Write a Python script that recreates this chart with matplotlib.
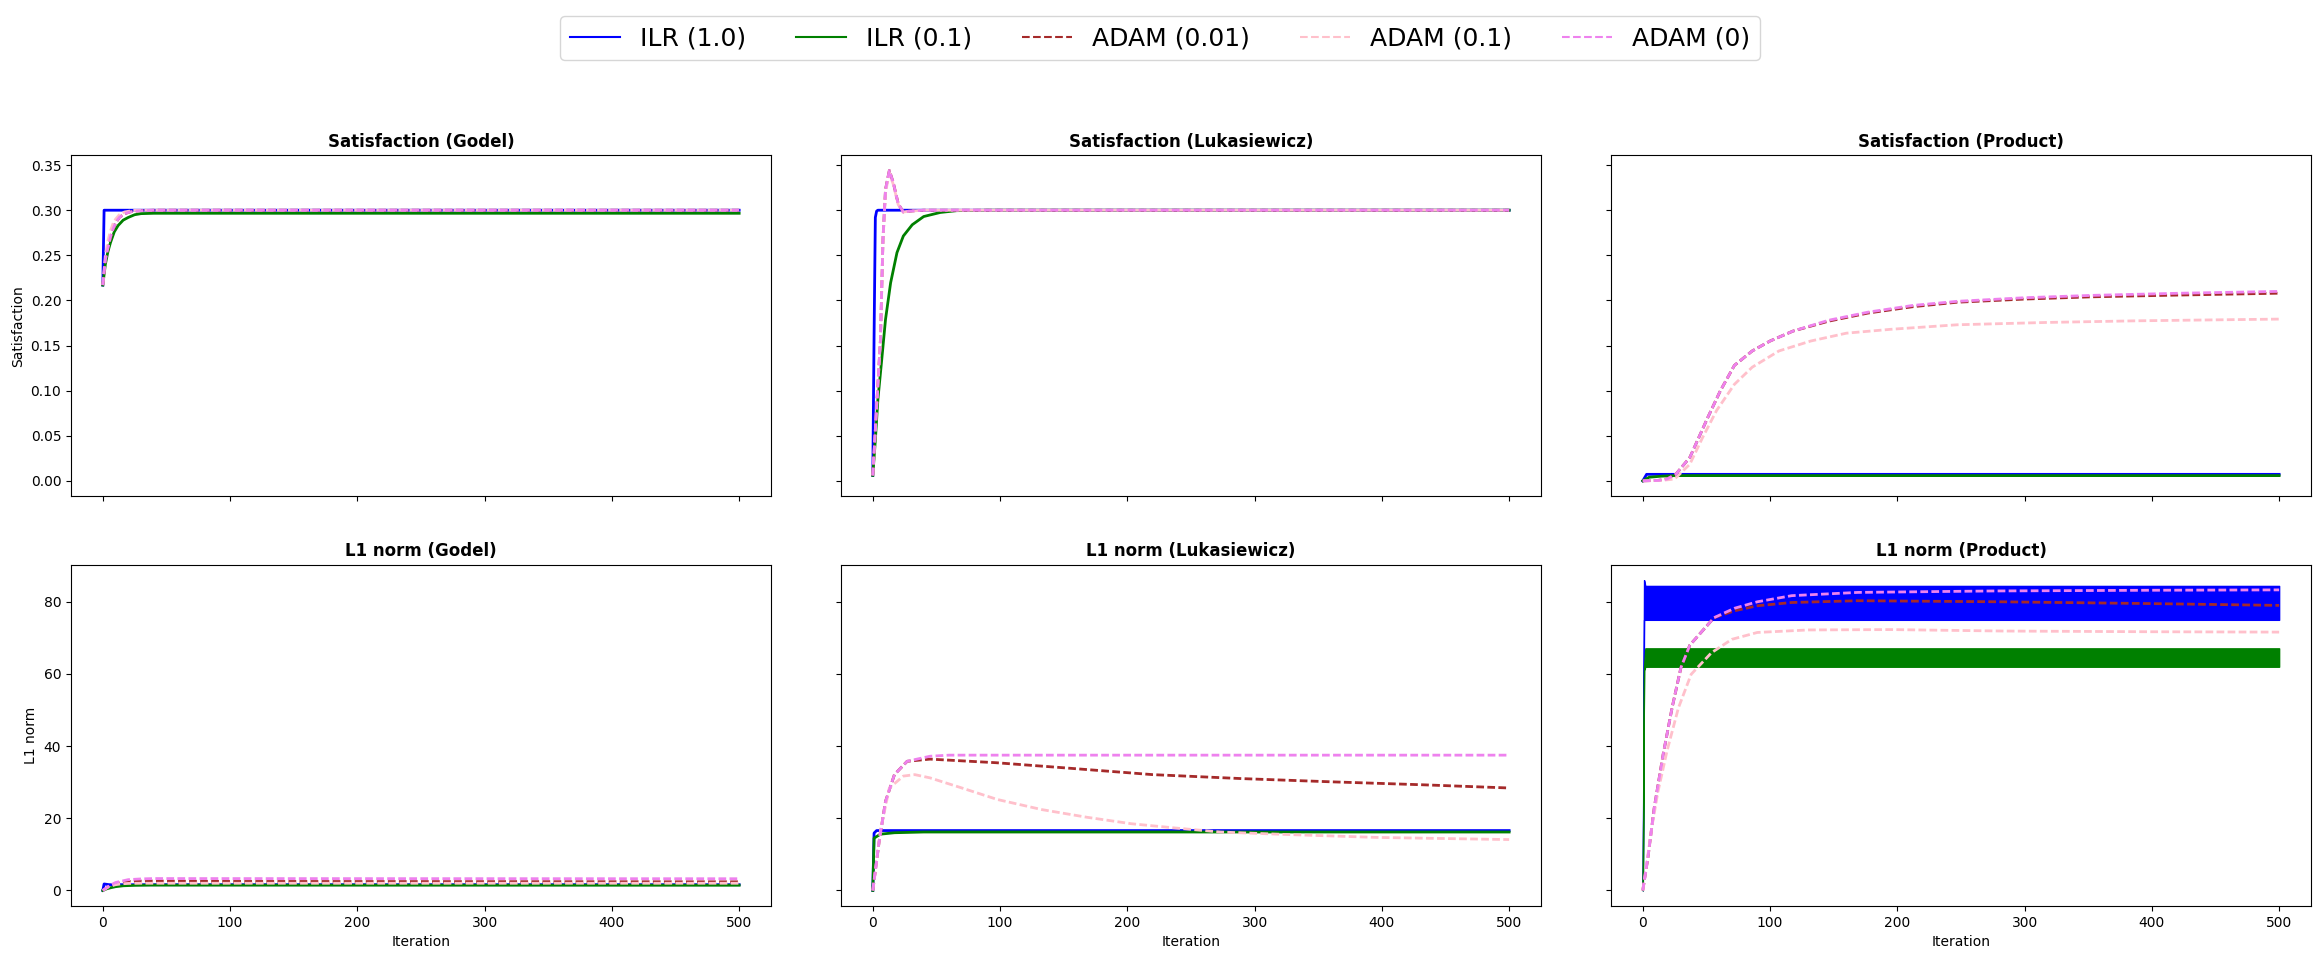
import matplotlib
matplotlib.use('Agg')
import matplotlib.pyplot as plt
from matplotlib.lines import Line2D

# ---------------- legend / styles ----------------
labels = ['ILR (1.0)', 'ILR (0.1)', 'ADAM (0.01)', 'ADAM (0.1)', 'ADAM (0)']
colors = ['blue', 'green', 'brown', 'pink', 'violet']
styles = ['-', '-', (0, (2.775, 1.2)), (0, (2.775, 1.2)), (0, (2.775, 1.2))]
legend_styles = ['-', '-', '--', '--', '--']

titles_top = ['Satisfaction (Godel)', 'Satisfaction (Lukasiewicz)', 'Satisfaction (Product)']
titles_bot = ['L1 norm (Godel)', 'L1 norm (Lukasiewicz)', 'L1 norm (Product)']

# ---------------- Satisfaction (Godel) ----------------
sat_godel_ilr1_it = [0, 1, 500]
sat_godel_ilr1 = [0.217, 0.300, 0.300]
sat_godel_ilr01_it = [0, 2, 4, 6, 9, 12, 16, 20, 25, 30, 40, 60, 500]
sat_godel_ilr01 = [0.217, 0.240, 0.254, 0.264, 0.276, 0.283, 0.289, 0.292, 0.295, 0.2962, 0.2966, 0.2966, 0.2966]
sat_godel_adam001_it = [0, 2, 4, 6, 8, 10, 13, 17, 21, 25, 30, 40, 500]
sat_godel_adam001 = [0.217, 0.245, 0.258, 0.270, 0.279, 0.286, 0.292, 0.296, 0.298, 0.299, 0.2995, 0.300, 0.300]
sat_godel_adam01_it = [0, 2, 4, 6, 8, 10, 13, 17, 21, 25, 30, 40, 500]
sat_godel_adam01 = [0.217, 0.250, 0.266, 0.277, 0.285, 0.290, 0.295, 0.298, 0.299, 0.2998, 0.300, 0.300, 0.300]
sat_godel_adam0_it = [0, 2, 4, 6, 8, 10, 13, 17, 21, 25, 30, 40, 500]
sat_godel_adam0 = [0.217, 0.245, 0.258, 0.270, 0.279, 0.286, 0.292, 0.296, 0.298, 0.299, 0.2995, 0.300, 0.300]

# ---------------- Satisfaction (Lukasiewicz) ----------------
sat_luk_ilr1_it = [0, 1, 2, 3, 4, 500]
sat_luk_ilr1 = [0.006, 0.160, 0.292, 0.299, 0.300, 0.300]
sat_luk_ilr01_it = [0, 2, 4, 7, 10, 14, 19, 24, 31, 40, 53, 66, 90, 500]
sat_luk_ilr01 = [0.006, 0.045, 0.090, 0.134, 0.179, 0.2195, 0.253, 0.2714, 0.2839, 0.293, 0.2975, 0.2995, 0.300, 0.300]
sat_luk_adam001_it = [0, 3, 6, 7, 8, 10, 13, 16, 20, 24, 29, 40, 500]
sat_luk_adam001 = [0.006, 0.082, 0.156, 0.212, 0.268, 0.323, 0.344, 0.331, 0.307, 0.298, 0.299, 0.300, 0.300]
sat_luk_adam01_it = [0, 3, 6, 7, 8, 10, 13, 16, 20, 24, 29, 40, 500]
sat_luk_adam01 = [0.006, 0.082, 0.156, 0.212, 0.266, 0.320, 0.341, 0.329, 0.306, 0.298, 0.299, 0.300, 0.300]
sat_luk_adam0_it = [0, 3, 6, 7, 8, 10, 13, 16, 20, 24, 29, 40, 500]
sat_luk_adam0 = [0.006, 0.082, 0.156, 0.212, 0.268, 0.323, 0.344, 0.331, 0.307, 0.298, 0.299, 0.300, 0.300]

# ---------------- Satisfaction (Product) ----------------
sat_prod_ilr1_it = [0, 3, 500]
sat_prod_ilr1 = [0.0, 0.0072, 0.0072]
sat_prod_ilr01_it = [0, 5, 15, 25, 500]
sat_prod_ilr01 = [0.0, 0.004, 0.0052, 0.0058, 0.0058]
sat_prod_adam001_it = [0, 12, 19, 26, 37, 51, 61, 72, 86, 100, 118, 146, 177, 212, 247, 300, 353, 423, 500]
sat_prod_adam001 = [0.0, 0.0005, 0.002, 0.0074, 0.026, 0.070, 0.100, 0.128, 0.144, 0.155, 0.166, 0.177,
                    0.186, 0.193, 0.198, 0.2015, 0.204, 0.206, 0.208]
sat_prod_adam01_it = [0, 15, 25, 37, 47, 58, 72, 86, 107, 132, 160, 195, 247, 318, 388, 500]
sat_prod_adam01 = [0.0, 0.0005, 0.002, 0.0185, 0.048, 0.078, 0.107, 0.126, 0.144, 0.155, 0.1637, 0.168,
                   0.173, 0.1756, 0.1774, 0.1793]
sat_prod_adam0_it = [0, 12, 19, 26, 37, 51, 61, 72, 86, 100, 118, 146, 177, 212, 247, 300, 353, 423, 500]
sat_prod_adam0 = [0.0, 0.0005, 0.002, 0.0074, 0.026, 0.070, 0.100, 0.128, 0.144, 0.155, 0.166, 0.178,
                  0.187, 0.1944, 0.199, 0.203, 0.2056, 0.208, 0.210]

# ---------------- L1 norm (Godel) ----------------
l1_godel_ilr1_it = [0, 1, 5, 500]
l1_godel_ilr1 = [0.0, 1.8, 1.6, 1.6]
l1_godel_ilr01_it = [0, 3, 6, 10, 16, 25, 38, 500]
l1_godel_ilr01 = [0.0, 0.45, 0.74, 1.05, 1.3, 1.42, 1.48, 1.45]
l1_godel_adam001_it = [0, 5, 10, 15, 20, 30, 40, 100, 500]
l1_godel_adam001 = [0.0, 1.2, 1.9, 2.3, 2.5, 2.6, 2.6, 2.5, 2.4]
l1_godel_adam01_it = [0, 5, 10, 15, 20, 30, 500]
l1_godel_adam01 = [0.0, 1.1, 1.6, 1.85, 1.95, 2.0, 2.0]
l1_godel_adam0_it = [0, 5, 10, 20, 30, 40, 500]
l1_godel_adam0 = [0.0, 1.3, 2.2, 3.0, 3.2, 3.3, 3.25]

# ---------------- L1 norm (Lukasiewicz) ----------------
l1_luk_ilr1_it = [0, 1, 3, 500]
l1_luk_ilr1 = [0.0, 15.9, 16.6, 16.6]
l1_luk_ilr01_it = [0, 1, 6, 17, 40, 500]
l1_luk_ilr01 = [0.0, 14.5, 15.6, 16.0, 16.2, 16.2]
l1_luk_adam001_it = [0, 5, 10, 17, 27, 45, 97, 150, 220, 290, 361, 431, 500]
l1_luk_adam001 = [0.0, 13.6, 24.7, 32.1, 35.8, 36.4, 35.4, 34.0, 32.1, 31.0, 30.1, 29.3, 28.4]
l1_luk_adam01_it = [0, 6, 13, 24, 33, 45, 70, 98, 133, 168, 203, 238, 273, 326, 396, 500]
l1_luk_adam01 = [0.0, 16.6, 28.4, 31.7, 32.1, 31.2, 28.4, 25.2, 22.4, 20.3, 18.5, 17.3, 16.2, 15.5, 14.7, 14.1]
l1_luk_adam0_it = [0, 5, 10, 17, 27, 45, 60, 500]
l1_luk_adam0 = [0.0, 13.6, 24.7, 32.1, 35.8, 37.2, 37.5, 37.5]

# ---------------- L1 norm (Product) ----------------
# ILR curves oscillate every iteration: drawn as the band between their low and high values
l1_prod_ilr1_it = [0, 1, 2, 500]
l1_prod_ilr1_lo = [0.0, 75.0, 75.0, 75.0]
l1_prod_ilr1_hi = [0.0, 86.0, 84.4, 84.4]
l1_prod_ilr01_it = [0, 1, 2, 500]
l1_prod_ilr01_lo = [0.0, 61.0, 62.0, 62.0]
l1_prod_ilr01_hi = [0.0, 62.0, 67.1, 67.1]
l1_prod_adam001_it = [0, 4, 9, 16, 23, 30, 37, 56, 72, 90, 117, 169, 282, 400, 500]
l1_prod_adam001 = [0.0, 9.0, 22.9, 37.7, 50.6, 61.8, 68.0, 75.6, 77.5, 78.9, 79.8, 80.3, 80.0, 79.5, 79.0]
l1_prod_adam01_it = [0, 7, 12, 19, 28, 38, 54, 70, 90, 130, 195, 282, 400, 500]
l1_prod_adam01 = [0.0, 17.3, 27.5, 38.6, 50.6, 59.9, 65.9, 69.6, 71.5, 72.2, 72.3, 71.9, 71.7, 71.6]
l1_prod_adam0_it = [0, 4, 9, 16, 23, 30, 37, 56, 72, 90, 117, 169, 274, 400, 500]
l1_prod_adam0 = [0.0, 9.0, 22.9, 37.7, 50.6, 61.8, 68.0, 75.6, 78.2, 80.0, 81.7, 82.6, 83.0, 83.2, 83.3]

# ---------------- assemble ----------------
line_panels = {
    (0, 0): [(sat_godel_ilr1_it, sat_godel_ilr1), (sat_godel_ilr01_it, sat_godel_ilr01),
             (sat_godel_adam001_it, sat_godel_adam001), (sat_godel_adam01_it, sat_godel_adam01),
             (sat_godel_adam0_it, sat_godel_adam0)],
    (0, 1): [(sat_luk_ilr1_it, sat_luk_ilr1), (sat_luk_ilr01_it, sat_luk_ilr01),
             (sat_luk_adam001_it, sat_luk_adam001), (sat_luk_adam01_it, sat_luk_adam01),
             (sat_luk_adam0_it, sat_luk_adam0)],
    (0, 2): [(sat_prod_ilr1_it, sat_prod_ilr1), (sat_prod_ilr01_it, sat_prod_ilr01),
             (sat_prod_adam001_it, sat_prod_adam001), (sat_prod_adam01_it, sat_prod_adam01),
             (sat_prod_adam0_it, sat_prod_adam0)],
    (1, 0): [(l1_godel_ilr1_it, l1_godel_ilr1), (l1_godel_ilr01_it, l1_godel_ilr01),
             (l1_godel_adam001_it, l1_godel_adam001), (l1_godel_adam01_it, l1_godel_adam01),
             (l1_godel_adam0_it, l1_godel_adam0)],
    (1, 1): [(l1_luk_ilr1_it, l1_luk_ilr1), (l1_luk_ilr01_it, l1_luk_ilr01),
             (l1_luk_adam001_it, l1_luk_adam001), (l1_luk_adam01_it, l1_luk_adam01),
             (l1_luk_adam0_it, l1_luk_adam0)],
}

LW = 2.0

fig, axes = plt.subplots(2, 3, figsize=(23.2, 9.58), dpi=100, sharex=True, sharey='row')
fig.subplots_adjust(left=0.0306, right=0.9961, top=0.8382, bottom=0.0543, wspace=0.1, hspace=0.2)

for (r, c), series in line_panels.items():
    ax = axes[r, c]
    for (it, val), col, ls, lab in zip(series, colors, styles, labels):
        ax.plot(it, val, color=col, linestyle=ls, linewidth=LW, label=lab)

# product L1 panel
ax = axes[1, 2]
ax.fill_between(l1_prod_ilr1_it, l1_prod_ilr1_lo, l1_prod_ilr1_hi, color=colors[0], linewidth=1.0)
ax.fill_between(l1_prod_ilr01_it, l1_prod_ilr01_lo, l1_prod_ilr01_hi, color=colors[1], linewidth=1.0)
for (it, val), col, ls in zip([(l1_prod_adam001_it, l1_prod_adam001),
                                (l1_prod_adam01_it, l1_prod_adam01),
                                (l1_prod_adam0_it, l1_prod_adam0)], colors[2:], styles[2:]):
    ax.plot(it, val, color=col, linestyle=ls, linewidth=LW)

for c in range(3):
    axes[0, c].set_title(titles_top[c], fontsize=12, fontweight='bold')
    axes[1, c].set_title(titles_bot[c], fontsize=12, fontweight='bold')
    axes[1, c].set_xlabel('Iteration')
axes[0, 0].set_ylabel('Satisfaction')
axes[1, 0].set_ylabel('L1 norm')

handles = [Line2D([0], [0], color=col, linestyle=ls, linewidth=1.5) for col, ls in zip(colors, legend_styles)]
fig.legend(handles, labels, loc='upper center', bbox_to_anchor=(0.5, 0.996), ncol=5, fontsize=18)

fig.savefig('out.png', dpi=100)
